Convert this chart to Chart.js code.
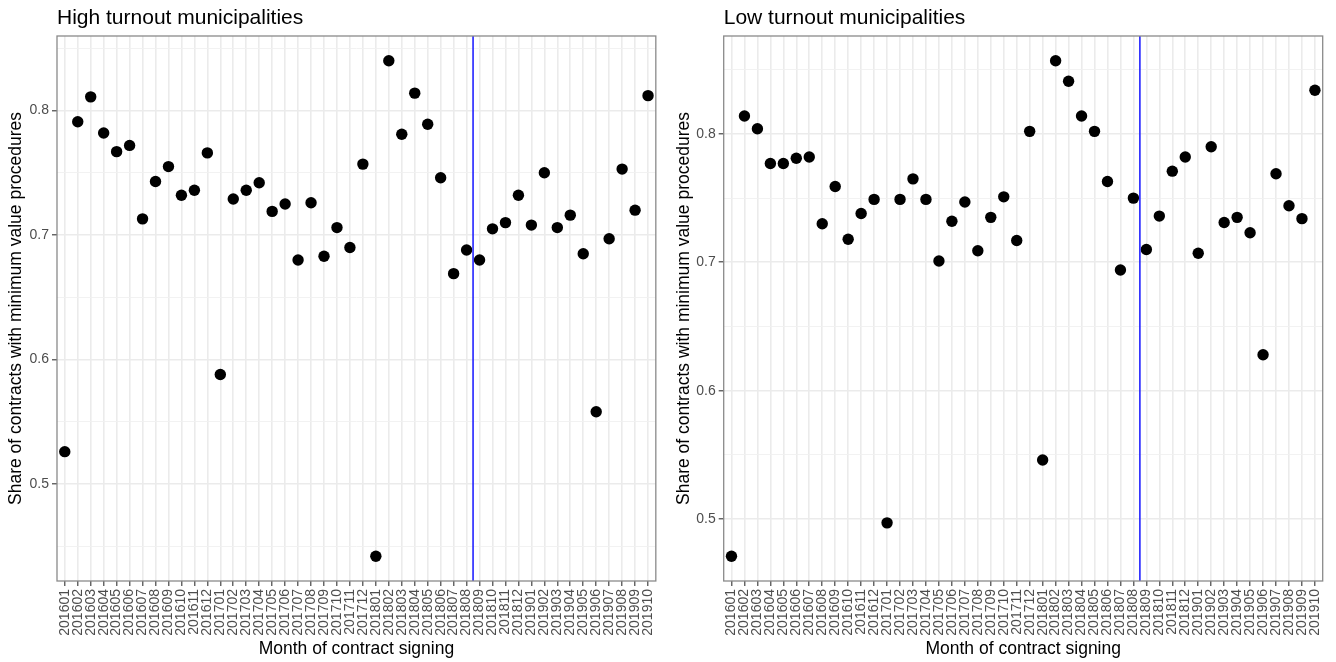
<!DOCTYPE html>
<html>
<head>
<meta charset="utf-8">
<script src="https://cdn.jsdelivr.net/npm/chart.js@4/dist/chart.umd.min.js"></script>
<style>
  body { margin: 0; background: #fff; }
  .fila { display: flex; width: 1336px; height: 662px; }
  canvas { display: block; }
</style>
</head>
<body>
<div class="fila">
  <canvas id="grafico-alta" width="668" height="662"></canvas>
  <canvas id="grafico-baja" width="668" height="662"></canvas>
</div>
<script>
// Meses de firma de contrato (eje X)
const meses = [
    "201601", "201602", "201603", "201604", "201605", "201606", "201607", "201608", "201609", "201610", "201611", "201612",
    "201701", "201702", "201703", "201704", "201705", "201706", "201707", "201708", "201709", "201710", "201711", "201712",
    "201801", "201802", "201803", "201804", "201805", "201806", "201807", "201808", "201809", "201810", "201811", "201812",
    "201901", "201902", "201903", "201904", "201905", "201906", "201907", "201908", "201909", "201910"
];

// Municipios con alta participación
const altaParticipacion = [
    0.526, 0.791, 0.811, 0.782, 0.767, 0.772, 0.713, 0.743, 0.755, 0.732, 0.736, 0.766,
    0.588, 0.729, 0.736, 0.742, 0.719, 0.725, 0.680, 0.726, 0.683, 0.706, 0.690, 0.757,
    0.442, 0.840, 0.781, 0.814, 0.789, 0.746, 0.669, 0.688, 0.680, 0.705, 0.710, 0.732,
    0.708, 0.750, 0.706, 0.716, 0.685, 0.558, 0.697, 0.753, 0.720, 0.812
];

// Municipios con baja participación
const bajaParticipacion = [
    0.471, 0.814, 0.804, 0.777, 0.777, 0.781, 0.782, 0.730, 0.759, 0.718, 0.738, 0.749,
    0.497, 0.749, 0.765, 0.749, 0.701, 0.732, 0.747, 0.709, 0.735, 0.751, 0.717, 0.802,
    0.546, 0.857, 0.841, 0.814, 0.802, 0.763, 0.694, 0.750, 0.710, 0.736, 0.771, 0.782,
    0.707, 0.790, 0.731, 0.735, 0.723, 0.628, 0.769, 0.744, 0.734, 0.834
];

// Marcas del eje Y (las vacías son líneas menores)
const marcasY = [0.45, 0.5, 0.55, 0.6, 0.65, 0.7, 0.75, 0.8, 0.85];
const etiquetasY = ["", "0.5", "", "0.6", "", "0.7", "", "0.8", ""];

// Línea vertical entre 201808 y 201809
const mesCorte = 31.5;

const fuente = "'Liberation Sans', Arial, Helvetica, sans-serif";

function esMayor(valor) {
    return etiquetasY[marcasY.indexOf(valor)] !== "";
}

// Dibuja la línea azul y el borde del panel
const extrasPanel = {
    id: 'extrasPanel',
    afterDatasetsDraw(chart) {
        const {ctx, chartArea: a, scales} = chart;
        const x = scales.x.getPixelForValue(mesCorte);
        ctx.save();
        ctx.strokeStyle = 'rgb(35, 35, 255)';
        ctx.lineWidth = 1.6;
        ctx.beginPath();
        ctx.moveTo(x, a.top);
        ctx.lineTo(x, a.bottom);
        ctx.stroke();
        ctx.strokeStyle = '#8a8a8a';
        ctx.lineWidth = 1.3;
        ctx.strokeRect(a.left, a.top, a.width, a.height);
        ctx.restore();
    }
};

function crearPanel(id, titulo, valores, anchoEjeY, margenDerecho) {
    // Rango como en ggplot: 5% de expansión
    const minimo = Math.min(...valores);
    const maximo = Math.max(...valores);
    const extra = (maximo - minimo) * 0.05;
    const yMin = minimo - extra;
    const yMax = maximo + extra;

    return new Chart(document.getElementById(id), {
        type: 'scatter',
        data: {
            datasets: [{
                data: valores.map((v, i) => ({x: i, y: v})),
                backgroundColor: '#000',
                borderWidth: 0,
                pointRadius: 5.7,
                pointHoverRadius: 5.7
            }]
        },
        options: {
            responsive: false,
            animation: false,
            devicePixelRatio: 1,
            layout: { padding: { top: 0, left: 0, bottom: 0, right: margenDerecho } },
            plugins: {
                legend: { display: false },
                tooltip: { enabled: false },
                title: {
                    display: true,
                    text: titulo,
                    align: 'start',
                    fullSize: false,
                    color: '#000',
                    font: { family: fuente, size: 21, weight: 'normal' },
                    padding: { top: 6, bottom: 4.8 }
                }
            },
            scales: {
                x: {
                    type: 'linear',
                    min: -0.6,
                    max: meses.length - 0.4,
                    afterBuildTicks: s => { s.ticks = meses.map((m, i) => ({value: i})); },
                    afterFit: s => { s.height = 81; },
                    ticks: {
                        callback: v => meses[v],
                        autoSkip: false,
                        minRotation: 90,
                        maxRotation: 90,
                        padding: 3,
                        color: '#4d4d4d',
                        font: { family: fuente, size: 14 }
                    },
                    grid: { color: '#ebebeb', lineWidth: 1.6, tickLength: 5, tickColor: '#333', tickWidth: 1.1 },
                    border: { display: false },
                    title: {
                        display: true,
                        text: 'Month of contract signing',
                        color: '#000',
                        font: { family: fuente, size: 17.5 },
                        padding: { top: 0, bottom: 2.5 }
                    }
                },
                y: {
                    min: yMin,
                    max: yMax,
                    afterBuildTicks: s => {
                        s.ticks = marcasY.filter(v => v >= yMin && v <= yMax).map(v => ({value: v}));
                    },
                    afterFit: s => { s.width = anchoEjeY; },
                    ticks: {
                        callback: v => etiquetasY[marcasY.indexOf(v)],
                        padding: 3,
                        color: '#4d4d4d',
                        font: { family: fuente, size: 14 }
                    },
                    grid: {
                        color: c => esMayor(c.tick.value) ? '#ebebeb' : '#f0f0f0',
                        lineWidth: c => esMayor(c.tick.value) ? 1.6 : 0.9,
                        tickLength: 5,
                        tickColor: c => esMayor(c.tick.value) ? '#333' : 'rgba(0,0,0,0)',
                        tickWidth: 1.1
                    },
                    border: { display: false },
                    title: {
                        display: true,
                        text: 'Share of contracts with minimum value procedures',
                        color: '#000',
                        font: { family: fuente, size: 17.5 },
                        padding: { top: 6, bottom: 0 }
                    }
                }
            }
        },
        plugins: [extrasPanel]
    });
}

crearPanel('grafico-alta', 'High turnout municipalities', altaParticipacion, 57, 11);
crearPanel('grafico-baja', 'Low turnout municipalities', bajaParticipacion, 55.7, 13.3);
</script>
</body>
</html>
